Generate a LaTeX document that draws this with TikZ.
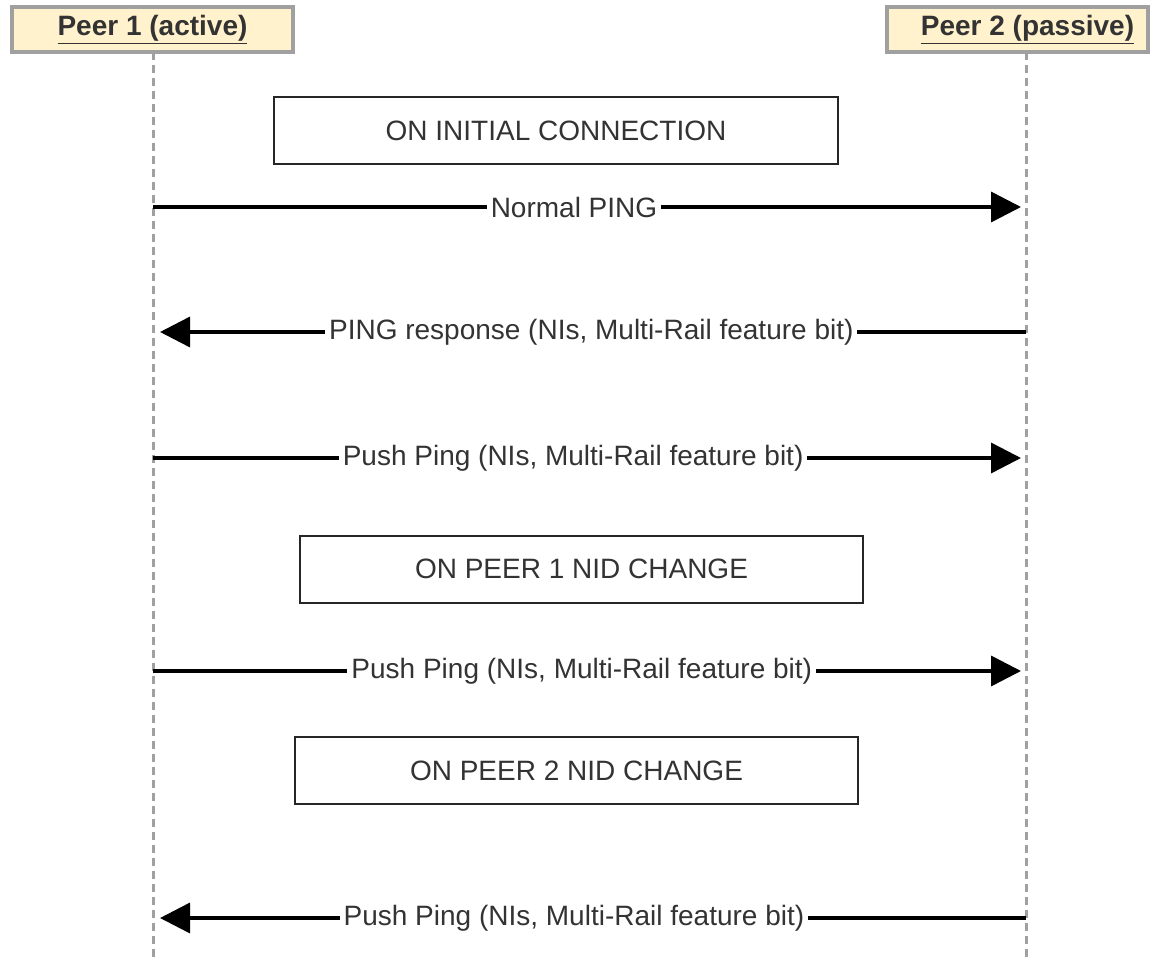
\documentclass[tikz,border=0pt]{standalone}
\usepackage{fontspec}
\setmainfont{Liberation Sans}
\usetikzlibrary{arrows.meta}

\definecolor{peerfill}{HTML}{FFF2CC}
\definecolor{peerline}{HTML}{A0A0A0}

\begin{document}
\begin{tikzpicture}[x=1pt, y=-1pt,
  every node/.style={align=center, font=\fontsize{28}{32}\selectfont, text=black!80},
  peer/.style={draw=peerline, line width=3.5pt, fill=peerfill, minimum height=45pt, inner sep=0pt, font=\fontsize{28}{32}\selectfont\bfseries},
  phase/.style={draw=black!85, line width=2pt, minimum width=564pt, minimum height=67pt, inner sep=0pt},
  lifeline/.style={draw=peerline, line width=3pt, dash pattern=on 8pt off 5pt},
  msg/.style={draw=black, line width=3.5pt, -{Triangle[length=30pt, width=30pt]}},
  lbl/.style={fill=white, inner sep=4pt}]
  \useasboundingbox (0,0) rectangle (1153,957);

  % Peers
  \node[peer, minimum width=281pt] (P1) at (152.5,29.5) {\underline{Peer 1 (active)}};
  \node[peer, minimum width=261pt] (P2) at (1017.5,29.5) {\hspace{20pt}\underline{Peer 2 (passive)}};

  % Lifelines
  \coordinate (P1top) at (153,52);
  \coordinate (P2top) at (1026,52);
  \coordinate (P1end) at (153,957);
  \coordinate (P2end) at (1026,957);
  \draw[lifeline] (P1top) -- (P1end);
  \draw[lifeline] (P2top) -- (P2end);

  % Phases
  \node[phase] (E1) at (556,130.5) {ON INITIAL CONNECTION};
  \node[phase, minimum width=563pt] (E2) at (581.5,569) {ON PEER 1 NID CHANGE};
  \node[phase, minimum width=563pt] (E3) at (576.5,770.5) {ON PEER 2 NID CHANGE};

  % Message ends
  \coordinate (A1) at (153,207);  \coordinate (B1) at (1021,207);
  \coordinate (A2) at (160,332);  \coordinate (B2) at (1026,332);
  \coordinate (A3) at (153,458);  \coordinate (B3) at (1021,458);
  \coordinate (A4) at (153,671);  \coordinate (B4) at (1021,671);
  \coordinate (A5) at (160,918);  \coordinate (B5) at (1026,918);

  % Messages
  \draw[msg] (A1) -- node[lbl, pos=0.485] (M1) {Normal PING} (B1);
  \draw[msg] (B2) -- node[lbl, pos=0.502] (M2) {PING response (NIs, Multi-Rail feature bit)} (A2);
  \draw[msg] (A3) -- node[lbl, pos=0.484] (M3) {Push Ping (NIs, Multi-Rail feature bit)} (B3);
  \draw[msg] (A4) -- node[lbl, pos=0.494] (M4) {Push Ping (NIs, Multi-Rail feature bit)} (B4);
  \draw[msg] (B5) -- node[lbl, pos=0.522] (M5) {Push Ping (NIs, Multi-Rail feature bit)} (A5);
\end{tikzpicture}
\end{document}
